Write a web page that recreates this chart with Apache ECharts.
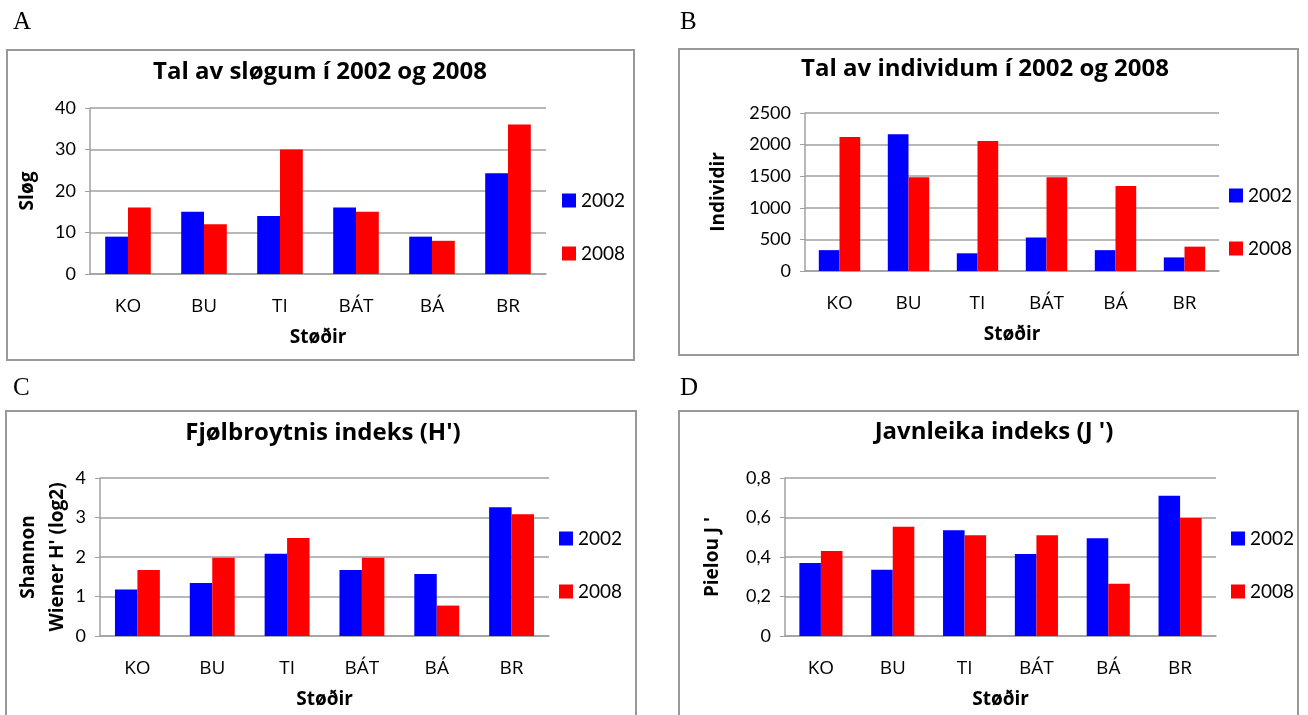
<!DOCTYPE html>
<html>
<head>
<meta charset="utf-8">
<title>Støðir 2002 og 2008</title>
<script src="https://cdn.jsdelivr.net/npm/echarts@6/dist/echarts.min.js"></script>
<style>
  html, body { margin: 0; padding: 0; background: #fff; }
  #main { width: 1308px; height: 715px; }
</style>
</head>
<body>
<div id="main"></div>
<script>
// stations and years
var categories = ['KO', 'BU', 'TI', 'BÁT', 'BÁ', 'BR'];
var years = ['2002', '2008'];

// A - tal av sløgum
var slogum2002 = [9, 15, 14, 16, 9, 24.3];
var slogum2008 = [16, 12, 30, 15, 8, 36];

// B - tal av individum
var individ2002 = [330, 2165, 280, 530, 330, 215];
var individ2008 = [2120, 1485, 2055, 1485, 1345, 385];

// C - Shannon Wiener H'
var shannon2002 = [1.18, 1.34, 2.08, 1.67, 1.57, 3.26];
var shannon2008 = [1.67, 1.98, 2.48, 1.98, 0.77, 3.08];

// D - Pielou J'
var pielou2002 = [0.37, 0.335, 0.535, 0.415, 0.495, 0.71];
var pielou2008 = [0.43, 0.553, 0.51, 0.51, 0.265, 0.597];

var titles = ['Tal av sløgum í 2002 og 2008', 'Tal av individum í 2002 og 2008', 'Fjølbroytnis indeks (H\')', 'Javnleika indeks (J \')'];
var yNames = ['Sløg', 'Individir', 'Shannon\nWiener H\' (log2)', 'Pielou J \''];
var xName = 'Støðir';
var panelLetters = ['A', 'B', 'C', 'D'];

function Page() {
  this.init();
}

Page.prototype = {

  init: function () {
    this.font = 'Lato';
    this.boldFont = 'Open Sans';
    this.initChart();
  },

  initChart: function () {
    var _this = this;
    var myChart = echarts.init(document.getElementById('main'));

    // box / grid = [x, y, w, h]; title, legend, letter = [x, y]
    var panels = [
      { box: [7, 50, 627, 310], grid: [90, 108, 456, 166], title: [320, 60], legend: [562, 191], letter: [13, 10], y: [0, 40, 10], yNameGap: 48, data: [slogum2002, slogum2008] },
      { box: [679, 49, 619, 306], grid: [805, 113, 414, 158], title: [985, 57], legend: [1229, 186], letter: [680, 10], y: [0, 2500, 500], yNameGap: 72, data: [individ2002, individ2008] },
      { box: [6, 411, 630, 310], grid: [100, 478, 449, 158], title: [323, 421], legend: [559, 529], letter: [13, 376], y: [0, 4, 1], yNameGap: 24, data: [shannon2002, shannon2008] },
      { box: [679, 411, 619, 310], grid: [785, 478, 431, 158], title: [994, 420], legend: [1231, 529], letter: [680, 376], y: [0, 0.8, 0.2], yNameGap: 58, data: [pielou2002, pielou2008] }
    ];

    var option = {
      animation: false,
      backgroundColor: '#fff',
      textStyle: { fontFamily: _this.font, color: '#000' },
      title: [],
      legend: [],
      grid: [],
      xAxis: [],
      yAxis: [],
      series: [],
      graphic: []
    };

    panels.forEach(function (p, i) {
      option.graphic.push({
        type: 'rect',
        shape: { x: p.box[0], y: p.box[1], width: p.box[2], height: p.box[3] },
        style: { fill: 'none', stroke: '#999', lineWidth: 2 },
        silent: true
      });
      option.graphic.push({
        type: 'text',
        left: p.letter[0],
        top: p.letter[1],
        style: { text: panelLetters[i], font: '25px "Liberation Serif"', fill: '#000' },
        silent: true
      });

      option.title.push({
        text: titles[i],
        left: p.title[0],
        top: p.title[1],
        textAlign: 'center',
        padding: 0,
        textStyle: { fontFamily: _this.boldFont, fontSize: 24, fontWeight: 'bold', color: '#000' }
      });

      option.legend.push({
        data: years,
        left: p.legend[0],
        top: p.legend[1],
        orient: 'vertical',
        icon: 'rect',
        itemWidth: 14,
        itemHeight: 14,
        itemGap: 34,
        padding: 0,
        selectedMode: false,
        textStyle: { fontFamily: _this.font, fontSize: 19, color: '#000' }
      });

      option.grid.push({
        left: p.grid[0],
        top: p.grid[1],
        width: p.grid[2],
        height: p.grid[3]
      });

      option.xAxis.push({
        type: 'category',
        gridIndex: i,
        data: categories,
        name: xName,
        nameLocation: 'middle',
        nameGap: 54,
        nameTextStyle: { fontFamily: _this.boldFont, fontSize: 19, fontWeight: 'bold', color: '#000' },
        axisLine: { lineStyle: { color: '#a0a0a0', width: 1.5 } },
        axisTick: { show: false },
        axisLabel: { fontFamily: _this.boldFont, fontSize: 19, color: '#000', margin: 23 }
      });

      option.yAxis.push({
        type: 'value',
        gridIndex: i,
        min: p.y[0],
        max: p.y[1],
        interval: p.y[2],
        name: yNames[i],
        nameLocation: 'middle',
        nameRotate: 90,
        nameGap: p.yNameGap,
        nameTextStyle: { fontFamily: _this.boldFont, fontSize: 19, fontWeight: 'bold', color: '#000', lineHeight: 29 },
        axisLine: { show: true, lineStyle: { color: '#a0a0a0', width: 1.5 } },
        axisTick: { show: true, inside: false, length: 5, lineStyle: { color: '#a0a0a0' } },
        splitLine: { lineStyle: { color: '#a0a0a0', width: 1.5 } },
        axisLabel: {
          fontFamily: _this.font,
          fontSize: 18,
          color: '#000',
          margin: 14,
          formatter: function (v) { return String(v).replace('.', ','); }
        }
      });

      years.forEach(function (yr, k) {
        option.series.push({
          name: yr,
          type: 'bar',
          xAxisIndex: i,
          yAxisIndex: i,
          data: p.data[k],
          barGap: '0%',
          barCategoryGap: '40%',
          itemStyle: { color: k === 0 ? '#0000ff' : '#ff0000' }
        });
      });
    });

    myChart.setOption(option);
  }
};

var page = new Page();
</script>
</body>
</html>
